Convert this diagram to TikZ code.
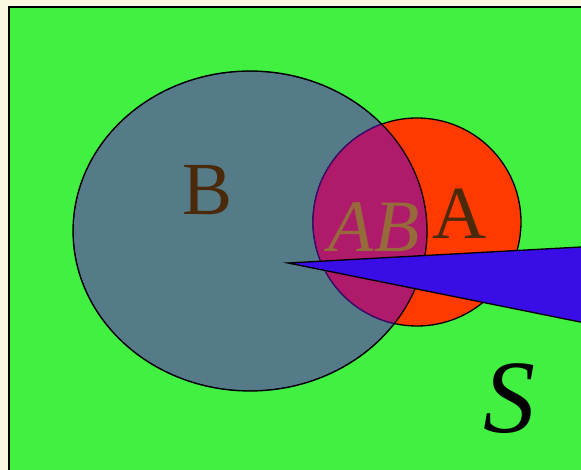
\documentclass[tikz,border=0pt]{standalone}
\usepackage{fontspec}
\setmainfont{Liberation Serif}
\definecolor{bgcream}{RGB}{251,248,226}
\definecolor{fieldgreen}{RGB}{65,240,65}
\definecolor{setred}{RGB}{255,58,0}
\definecolor{setgray}{RGB}{85,123,137}
\definecolor{setmag}{RGB}{176,26,106}
\definecolor{setpurple}{RGB}{60,10,110}
\definecolor{wedgeblue}{RGB}{56,13,230}
\definecolor{lblbrown}{RGB}{74,42,10}
\definecolor{lbltan}{RGB}{150,106,58}
\tikzset{
  outline/.style={draw=black, line width=1.3pt},
  biglbl/.style={inner sep=0pt, font=\fontsize{75}{75}\selectfont, text=lblbrown},
}
\begin{document}
\begin{tikzpicture}[x=1pt,y=-1pt]
\fill[bgcream] (0,0) rectangle (581,470);
\useasboundingbox (0,0) rectangle (581,470);
\draw[fill=fieldgreen, line width=2pt] (9,7) rectangle (600,490);
% set B
\draw[outline, fill=setgray] (250,231) ellipse [x radius=177, y radius=160];
% set A
\draw[outline, fill=setred] (417,222) circle [radius=104];
% B outline over A
\begin{scope}
\clip (417,222) circle [radius=104];
\draw[outline] (250,231) ellipse [x radius=177, y radius=160];
\end{scope}
% intersection AB
\begin{scope}
\clip (250,231) ellipse [x radius=177, y radius=160];
\fill[setmag] (417,222) circle [radius=104];
\draw[setpurple, line width=1.3pt] (417,222) circle [radius=104];
\draw[outline] (250,231) ellipse [x radius=177, y radius=160];
\end{scope}
% labels
\node[biglbl] (lB) at (208,190) {B};
\node[biglbl] (lA) at (460,214) {A};
\node[inner sep=0pt, font=\fontsize{74}{74}\selectfont\itshape, text=lbltan] (lAB) at (374,227) {AB};
% wedge
\draw[fill=wedgeblue, line width=1.3pt, line join=miter] (288,263) -- (590,246.5) -- (590,324) -- cycle;
\node[inner sep=0pt, font=\fontsize{104}{104}\selectfont\itshape] (lS) at (509,399) {S};
\end{tikzpicture}
\end{document}
